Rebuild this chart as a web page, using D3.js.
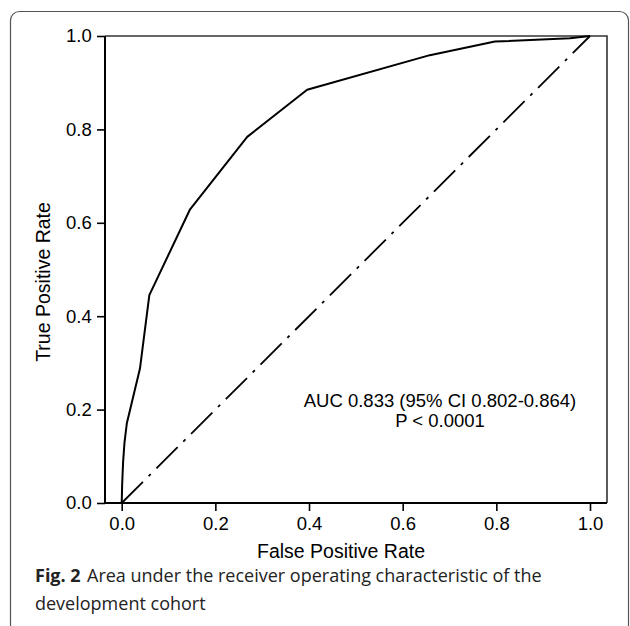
<!DOCTYPE html>
<html>
<head>
<meta charset="utf-8">
<script src="https://cdn.jsdelivr.net/npm/d3@7"></script>
<style>
  body { margin: 0; background: #fff; }
  svg { display: block; }
  .tick text { font-family: "Liberation Sans", Arial, sans-serif; font-size: 18.5px; fill: #000; }
  .tick line { stroke: #000; stroke-width: 1.6px; }
</style>
</head>
<body>
<svg class="chart" width="630" height="626"></svg>
<script>
// ROC curve
var fpr = [0, 0.001, 0.003, 0.006, 0.011, 0.039, 0.059, 0.146, 0.268, 0.396, 0.658, 0.797, 0.957, 1]
var tpr = [0, 0.04, 0.088, 0.13, 0.171, 0.288, 0.445, 0.629, 0.784, 0.885, 0.959, 0.988, 0.995, 1]
var refLine = [0, 1]
var xTicks = [0, 0.2, 0.4, 0.6, 0.8, 1.0]
var yTicks = [0, 0.2, 0.4, 0.6, 0.8, 1.0]
var aucText = ["AUC 0.833 (95% CI 0.802-0.864)", "P < 0.0001"]

var chart = d3.select(".chart")
var font = "'Liberation Sans', Arial, sans-serif"

// plot box
var box = {left: 105, right: 607, top: 36, bottom: 503}

var x = d3.scaleLinear().domain([0, 1]).range([121.7, 590])
var y = d3.scaleLinear().domain([0, 1]).range([box.bottom, box.top])

// outer figure frame
chart.append("rect")
  .attr("x", 10.5).attr("y", 11.5)
  .attr("width", 618).attr("height", 622)
  .attr("rx", 9)
  .attr("fill", "none")
  .attr("stroke", "#555")
  .attr("stroke-width", 1.2)

// top / right of box
chart.append("path")
  .attr("d", "M" + box.left + "," + box.top + "H" + box.right + "V" + box.bottom)
  .attr("fill", "none")
  .attr("stroke", "#333")
  .attr("stroke-width", 1.6)

var fmt = d3.format(".1f")

var gx = chart.append("g")
  .attr("transform", "translate(0," + box.bottom + ")")
  .call(d3.axisBottom(x).tickValues(xTicks).tickSize(8).tickPadding(6).tickFormat(fmt))
gx.select(".domain").remove()

var gy = chart.append("g")
  .attr("transform", "translate(" + box.left + ",0)")
  .call(d3.axisLeft(y).tickValues(yTicks).tickSize(8).tickPadding(5.3).tickFormat(fmt))
gy.select(".domain").remove()

// axis lines
chart.append("path")
  .attr("d", "M" + box.left + "," + box.top + "V" + box.bottom + "H" + box.right)
  .attr("fill", "none")
  .attr("stroke", "#000")
  .attr("stroke-width", 2)

// reference diagonal
chart.append("line")
  .attr("x1", x(refLine[0])).attr("y1", y(refLine[0]))
  .attr("x2", x(refLine[1])).attr("y2", y(refLine[1]))
  .attr("stroke", "#000")
  .attr("stroke-width", 1.8)
  .attr("stroke-dasharray", "30,8,3,8")

// ROC curve
var line = d3.line()
  .x(function(d, i) { return x(fpr[i]) })
  .y(function(d, i) { return y(tpr[i]) })

chart.append("path")
  .datum(fpr)
  .attr("d", line)
  .attr("fill", "none")
  .attr("stroke", "#000")
  .attr("stroke-width", 2)
  .attr("stroke-linejoin", "round")

// annotation
chart.selectAll(".auc")
    .data(aucText)
  .enter().append("text")
    .attr("class", "auc")
    .attr("x", 440)
    .attr("y", function(d, i) { return 406.7 + i * 20 })
    .attr("text-anchor", "middle")
    .style("font-family", font)
    .style("font-size", "18.5px")
    .text(function(d) { return d })

// axis titles
chart.append("text")
  .attr("x", 341)
  .attr("y", 558)
  .attr("text-anchor", "middle")
  .style("font-family", font)
  .style("font-size", "19.5px")
  .text("False Positive Rate")

chart.append("text")
  .attr("transform", "translate(50,282) rotate(-90)")
  .attr("text-anchor", "middle")
  .style("font-family", font)
  .style("font-size", "19.5px")
  .text("True Positive Rate")

// caption
var cap = chart.append("text")
  .attr("x", 35)
  .attr("y", 582)
  .style("font-family", "'Open Sans', sans-serif")
  .style("font-size", "18px")
  .attr("fill", "#222")
cap.append("tspan").style("font-weight", "bold").text("Fig. 2")
cap.append("tspan").attr("x", 87).text("Area under the receiver operating characteristic of the")

chart.append("text")
  .attr("x", 35)
  .attr("y", 610)
  .style("font-family", "'Open Sans', sans-serif")
  .style("font-size", "18px")
  .attr("fill", "#222")
  .text("development cohort")
</script>
</body>
</html>
